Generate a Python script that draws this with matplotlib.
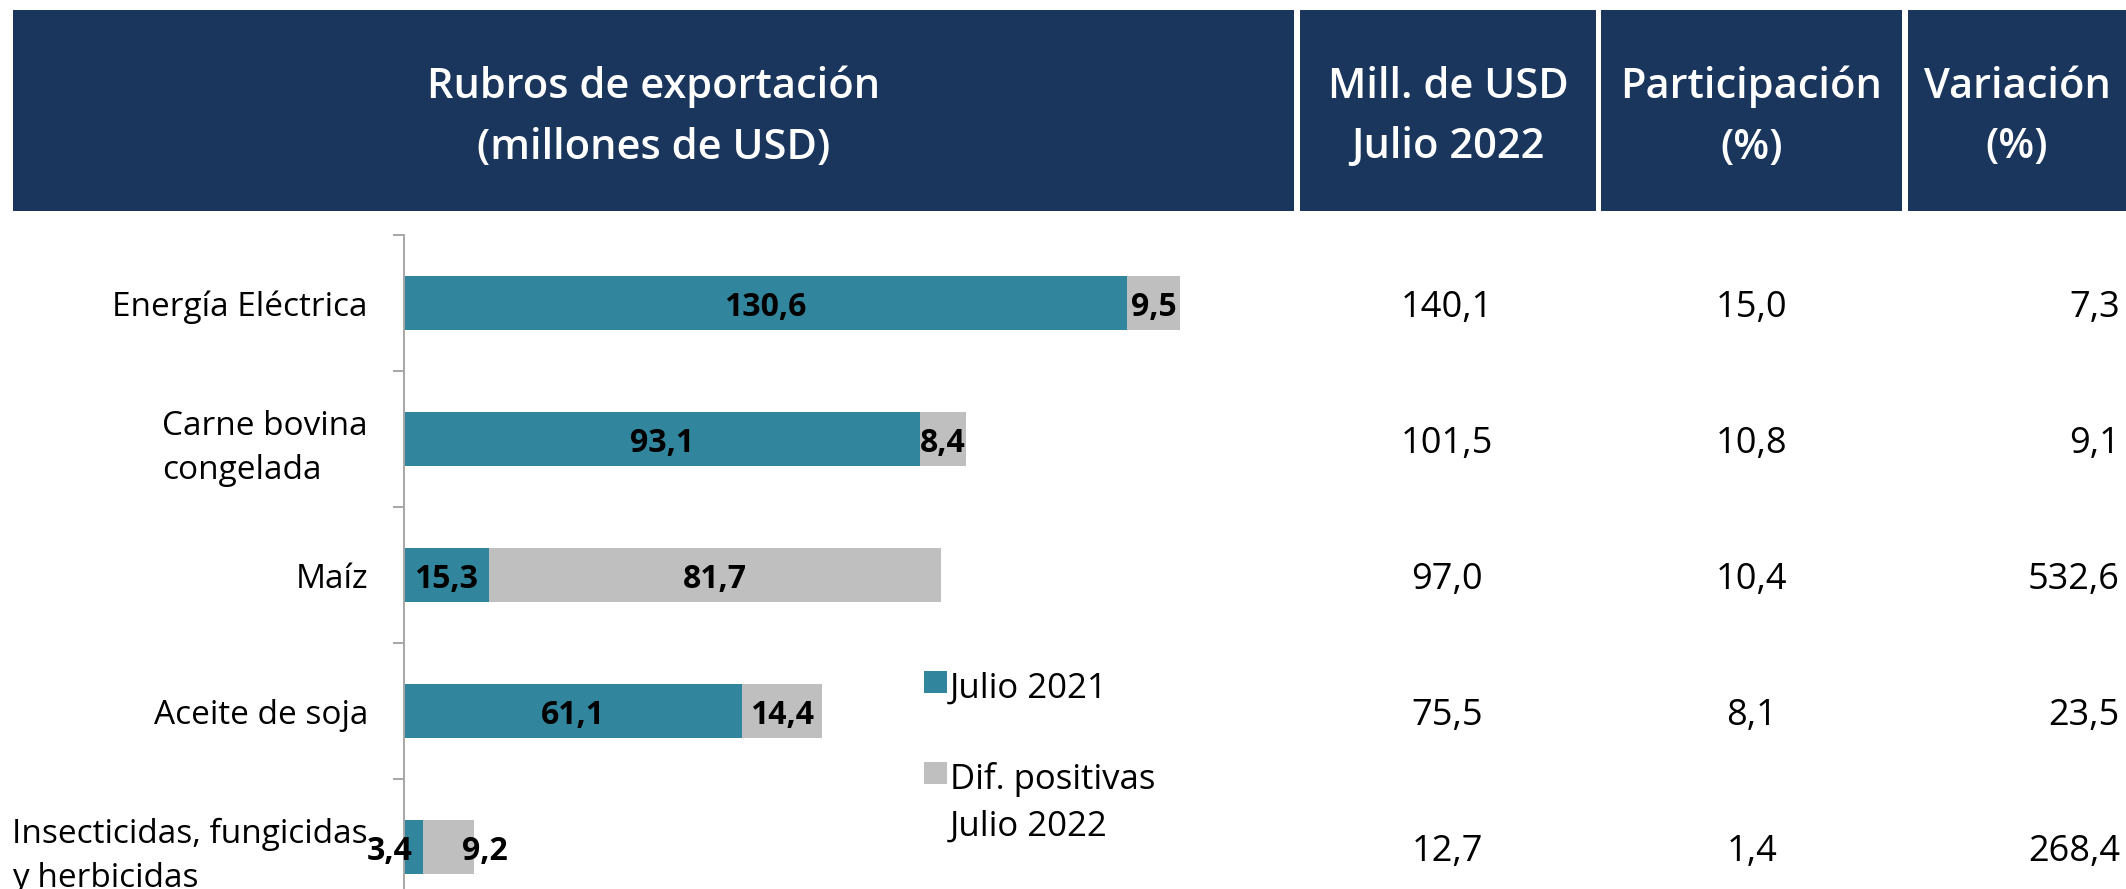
import matplotlib
matplotlib.use('Agg')
import matplotlib.pyplot as plt
from matplotlib.patches import Rectangle
import matplotlib.transforms as mtransforms

plt.rcParams['font.family'] = ['Open Sans', 'DejaVu Sans']

# ---------------- Datos ----------------
rubros = ['Energía Eléctrica', 'Carne bovina\ncongelada', 'Maíz', 'Aceite de soja',
          'Insecticidas, fungicidas\ny herbicidas']
julio_2021 = [130.6, 93.1, 15.3, 61.1, 3.4]
dif_positivas = [9.5, 8.4, 81.7, 14.4, 9.2]
mill_usd_2022 = [140.1, 101.5, 97.0, 75.5, 12.7]
participacion = [15.0, 10.8, 10.4, 8.1, 1.4]
variacion = [7.3, 9.1, 532.6, 23.5, 268.4]
encabezados = ['Rubros de exportación\n(millones de USD)', 'Mill. de USD\nJulio 2022',
               'Participación\n(%)', 'Variación\n(%)']
series = ['Julio 2021', 'Dif. positivas\nJulio 2022']

# colores
AZUL = '#1a365d'
TEAL = '#31859c'
GRIS = '#bfbfbf'
EJE = '#a6a6a6'

W, H = 2126, 889


def fx(x):
    # pixel -> fraccion de figura (horizontal)
    return x / W


def fy(y):
    # pixel (desde arriba) -> fraccion de figura (vertical)
    return 1 - y / H


def coma(v):
    return f'{v:.1f}'.replace('.', ',')


fig = plt.figure(figsize=(W / 100, H / 100), dpi=100)

# ---------------- Encabezado ----------------
bloques = [(13, 1294), (1300, 1596), (1601, 1902), (1908, 2126)]
for (x0, x1), titulo in zip(bloques, encabezados):
    fig.patches.append(Rectangle((fx(x0), fy(211)), (x1 - x0) / W, (211 - 10) / H,
                                 transform=fig.transFigure, facecolor=AZUL, edgecolor='none'))
    fig.text(fx((x0 + x1) / 2), fy(117), titulo, color='white', fontsize=30,
             fontweight='semibold', ha='center', va='center', linespacing=1.58)

# ---------------- Barras ----------------
ax = fig.add_axes([fx(404), fy(915), 886 / W, 680 / H])
y = list(range(len(rubros)))
b1 = ax.barh(y, julio_2021, height=0.39, color=TEAL)
b2 = ax.barh(y, dif_positivas, left=julio_2021, height=0.39, color=GRIS)
ax.set_xlim(0, 160)
ax.set_ylim(len(rubros) - 0.5, -0.5)

ax.set_yticks([i - 0.5 for i in range(len(rubros) + 1)])
ax.set_yticklabels([])
ax.set_yticks(y, minor=True)
ax.set_yticklabels(rubros, minor=True, fontsize=24, linespacing=1.45)
for t in ax.get_yticklabels(minor=True):
    t.set_multialignment('left')
ax.tick_params(axis='y', which='major', length=8, width=1.4, color=EJE, direction='out')
ax.tick_params(axis='y', which='minor', length=0, pad=26)
ax.set_xticks([])
for s in ['top', 'right', 'bottom']:
    ax.spines[s].set_visible(False)
ax.spines['left'].set_color(EJE)
ax.spines['left'].set_linewidth(1.4)

# etiquetas de las barras (las del ultimo rubro estan desplazadas en el original)
desplazamiento = {(4, 0): -24, (4, 1): 37}
for j, barras in enumerate([b1, b2]):
    for i, r in enumerate(barras):
        dx = desplazamiento.get((i, j), 0)
        ax.annotate(coma(r.get_width()), xy=(r.get_x() + r.get_width() / 2, r.get_y() + r.get_height() / 2),
                    xytext=(dx, 0), textcoords='offset pixels', ha='center', va='center_baseline',
                    fontsize=23, fontweight='bold')

# ---------------- Columnas de la tabla ----------------
trans = mtransforms.blended_transform_factory(fig.transFigure, ax.transData)
columnas = [(mill_usd_2022, 1447, 'center'), (participacion, 1752, 'center'), (variacion, 2120, 'right')]
for valores, xpx, ha in columnas:
    for i, v in enumerate(valores):
        ax.text(fx(xpx), i, coma(v), transform=trans, ha=ha, va='center_baseline', fontsize=26)

# ---------------- Leyenda ----------------
for texto, color, yc in zip(series, [TEAL, GRIS], [682, 773]):
    fig.patches.append(Rectangle((fx(924), fy(yc + 11)), 23 / W, 22 / H,
                                 transform=fig.transFigure, facecolor=color, edgecolor='none'))
    for k, linea in enumerate(texto.split('\n')):
        fig.text(fx(950), fy(yc + 16 + 47 * k), linea, fontsize=25, ha='left', va='baseline')

fig.savefig('out.png', dpi=100)
